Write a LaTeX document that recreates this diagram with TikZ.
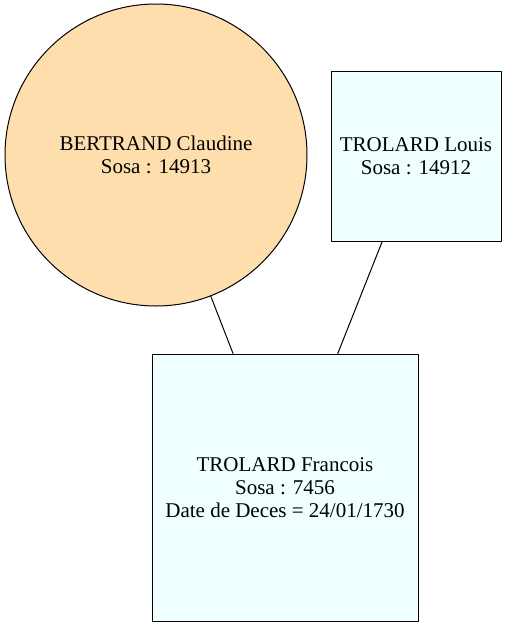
\documentclass[tikz,border=0pt]{standalone}
\usepackage{fontspec}
\setmainfont{Liberation Serif}
\usepackage{tikz}
\usetikzlibrary{positioning}

\begin{document}
\begin{tikzpicture}[line cap=round,line join=round,x=1pt,y=-1pt,
  person/.style={draw,line width=1pt,align=center,inner sep=0pt,
    font=\fontsize{21}{23}\selectfont},
  man/.style={person,rectangle,fill={rgb,255:red,240;green,255;blue,255}},
  woman/.style={person,circle,fill={rgb,255:red,255;green,222;blue,173}}]
\useasboundingbox (0,0) rectangle (507,627);
% parents
\node[woman,minimum size=302pt] (bertrand) at (156,155) {BERTRAND Claudine\\Sosa : 14913};
\node[man,minimum width=170pt,minimum height=170pt] (louis) at (416,156) {TROLARD Louis\\Sosa : 14912};
% child
\node[man,minimum width=266pt,minimum height=267pt] (francois) at (285,487.5) {TROLARD Francois\\Sosa : 7456\\Date de Deces = 24/01/1730};

\draw[line width=1pt] (bertrand) -- (francois);
\draw[line width=1pt] (louis) -- (francois);
\end{tikzpicture}
\end{document}
